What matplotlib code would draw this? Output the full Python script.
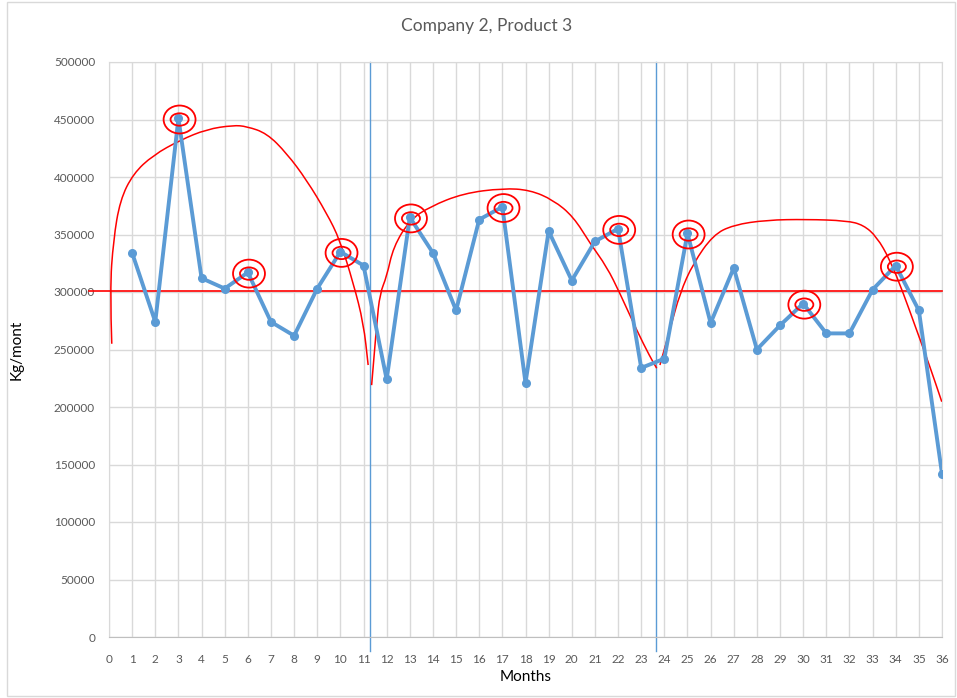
import numpy as np
import matplotlib.pyplot as plt
from matplotlib.patches import Ellipse, Rectangle, PathPatch
from matplotlib.path import Path

# --- Data ---
months = list(range(1, 37))
kg = [334000, 274000, 451000, 312000, 303000, 317000, 274000, 262000, 303000, 335000,
      323000, 224000, 365000, 334000, 284000, 363000, 374000, 221000, 353000, 310000,
      344000, 355000, 234000, 242000, 351000, 273000, 321000, 250000, 271000, 290000,
      264000, 264000, 302000, 323000, 284000, 142000]
circled = [3, 6, 10, 13, 17, 22, 25, 30, 34]
mean_level = 301000
splits = [11.3, 23.64]

# hand-drawn red trend curves (month, kg), used as control points
curve1_x = [0.12, 0.04, 0.19, 0.48, 1.05, 1.91, 3.07, 4.22, 5.37, 5.95, 6.82, 7.68, 8.54, 9.41, 9.98, 10.56, 11.0, 11.2]
curve1_y = [255000, 301700, 345200, 380000, 403000, 419000, 432000, 441500, 445000, 444000, 438000, 420600,
            397400, 368400, 345200, 307600, 272800, 236500]
curve2_x = [11.35, 11.57, 11.71, 12.0, 12.29, 13.0, 13.87, 15.31, 17.04, 18.19, 19.2, 20.07, 20.79, 21.51,
            22.08, 22.8, 23.38, 23.67]
curve2_y = [219000, 272800, 298900, 313300, 339400, 362600, 374200, 385800, 390200, 388700, 380000, 365500,
            342300, 322000, 298900, 267000, 243700, 233700]
curve3_x = [23.81, 24.24, 24.67, 25.25, 26.11, 26.98, 28.42, 30.15, 31.88, 32.6, 33.18, 33.75, 34.33, 34.9,
            35.48, 35.99]
curve3_y = [236500, 267000, 298900, 325000, 349600, 358300, 362600, 363200, 362000, 358300, 348000, 328000,
            298900, 267000, 235000, 204600]

plt.rcParams['font.family'] = ['Lato', 'DejaVu Sans']
GRID = "#d9d9d9"
TXT = "#595959"
BLUE = "#5b9bd5"


def smooth_path(xs, ys):
    # quadratic bezier through midpoints, control points = read points
    pts = list(zip(xs, ys))
    verts = [pts[0]]
    codes = [Path.MOVETO]
    for i in range(1, len(pts) - 1):
        mid = ((pts[i][0] + pts[i + 1][0]) / 2, (pts[i][1] + pts[i + 1][1]) / 2)
        verts += [pts[i], mid]
        codes += [Path.CURVE3, Path.CURVE3]
    verts.append(pts[-1])
    codes.append(Path.LINETO)
    return Path(verts, codes)


fig = plt.figure(figsize=(9.57, 6.98), dpi=100)
ax = fig.add_axes([109 / 957, 61 / 698, 833 / 957, 575 / 698])

ax.set_xlim(0, 36)
ax.set_ylim(0, 500000)
ax.set_xticks(range(0, 37))
ax.set_yticks(range(0, 500001, 50000))
ax.grid(True, color=GRID, lw=1)
ax.set_axisbelow(True)
for s in ax.spines.values():
    s.set_color(GRID)
ax.spines['bottom'].set_color("#bfbfbf")
ax.tick_params(length=0, labelsize=8.5, labelcolor=TXT)
ax.tick_params(axis='x', pad=12)
ax.tick_params(axis='y', pad=10)

# split markers
for s in splits:
    ax.plot([s, s], [-12000, 500000], color=BLUE, lw=1, clip_on=False, zorder=2)

# mean level
ax.plot([-0.86, 36], [mean_level, mean_level], color="red", lw=1.2, clip_on=False, zorder=3)

# trend curves
for cx, cy in [(curve1_x, curve1_y), (curve2_x, curve2_y), (curve3_x, curve3_y)]:
    ax.add_patch(PathPatch(smooth_path(cx, cy), fill=False, ec="red", lw=1.1, zorder=3))

# series
ax.plot(months, kg, color=BLUE, lw=2.8, marker='o', ms=5.5, zorder=4)

# circled points
for m in circled:
    v = kg[m - 1]
    ax.add_patch(Ellipse((m + 0.05, v - 1000), 1.38, 24300, fill=False, ec="red", lw=1.3, zorder=5))
    ax.add_patch(Ellipse((m + 0.05, v - 1000), 0.78, 10800, fill=False, ec="red", lw=1.3, zorder=5))

ax.set_xlabel("Months", fontsize=11, color="black", labelpad=4)
ax.set_ylabel("Kg/mont", fontsize=11, color="black", labelpad=22)
fig.text(487 / 957, 1 - 26 / 698, "Company 2, Product 3", ha="center", va="center", fontsize=12.5, color=TXT)

# chart area border
fig.patches.append(Rectangle((7 / 957, 2 / 698), 948 / 957, 694 / 698, transform=fig.transFigure,
                             fill=False, ec=GRID, lw=1))

fig.savefig("out.png", dpi=100)
